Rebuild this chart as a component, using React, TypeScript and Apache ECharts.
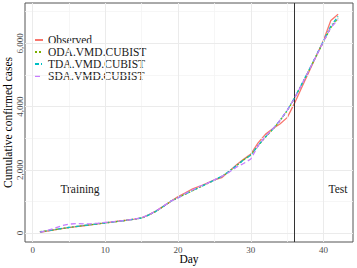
import React, { useEffect, useRef } from 'react';
import * as echarts from 'echarts';

const days = [1, 2, 3, 4, 5, 6, 7, 8, 9, 10, 11, 12, 13, 14, 15, 16, 17, 18, 19, 20, 21, 22, 23, 24, 25, 26, 27, 28, 29, 30, 31, 32, 33, 34, 35, 36, 37, 38, 39, 40, 41, 42];
const observed = [20, 60, 100, 140, 170, 200, 230, 260, 290, 320, 350, 380, 410, 440, 480, 580, 700, 850, 1000, 1150, 1270, 1400, 1480, 1580, 1680, 1750, 1950, 2150, 2330, 2500, 2850, 3120, 3300, 3450, 3650, 4100, 4600, 5100, 5600, 6100, 6720, 6920];
const oda = [40, 70, 105, 140, 175, 205, 235, 260, 290, 320, 345, 375, 405, 435, 475, 570, 690, 840, 1000, 1120, 1230, 1340, 1450, 1560, 1670, 1790, 1940, 2120, 2310, 2470, 2760, 3030, 3270, 3550, 3870, 4260, 4700, 5150, 5600, 6050, 6500, 6800];
const tda = [35, 72, 108, 145, 178, 208, 236, 262, 292, 322, 348, 378, 408, 438, 478, 575, 695, 845, 1005, 1115, 1235, 1345, 1455, 1565, 1675, 1795, 1945, 2125, 2315, 2460, 2770, 3040, 3280, 3560, 3880, 4270, 4710, 5160, 5620, 6080, 6550, 6850];
const sda = [30, 80, 150, 230, 280, 300, 290, 295, 310, 335, 355, 380, 410, 440, 485, 580, 700, 850, 1010, 1110, 1250, 1360, 1480, 1570, 1680, 1790, 1920, 2080, 2200, 2340, 2760, 3050, 3290, 3560, 3880, 4260, 4700, 5150, 5600, 6060, 6500, 6750];

const xMajor = [0, 10, 20, 30, 40];
const xMinor = [5, 15, 25, 35];
const yMajor = [0, 2000, 4000, 6000];
const yMinor = [1000, 3000, 5000, 7000];
const splitDay = 36;
const seriesNames = ['Observed', 'ODA.VMD.CUBIST', 'TDA.VMD.CUBIST', 'SDA.VMD.CUBIST'];

const FONT = '"Liberation Serif", "DejaVu Serif", serif';

export default function App() {
  const ref = useRef<HTMLDivElement>(null);
  useEffect(() => {
    if (!ref.current) return;
    const chart = echarts.init(ref.current, null, { renderer: 'svg' });
    const pair = (arr: number[]) => days.map((d, i) => [d, arr[i]]);
    const colors = ['#F8766D', '#7CAE00', '#00BFC4', '#C77CFF'];
    const dashes: any[] = ['solid', [2, 2], [4, 2, 1, 2], [5, 3]];
    const datasets = [observed, oda, tda, sda];
    const series: any[] = datasets.map((arr, i) => ({
      name: seriesNames[i],
      type: 'line',
      data: pair(arr),
      symbol: 'none',
      showSymbol: false,
      smooth: false,
      z: 3 + i,
      lineStyle: { color: colors[i], width: 1.3, type: dashes[i] },
      itemStyle: { color: colors[i] },
    }));
    series.push({
      name: 'grid',
      type: 'line',
      data: [],
      z: 1,
      silent: true,
      markLine: {
        silent: true,
        symbol: ['none', 'none'],
        label: { show: false },
        animation: false,
        data: [
          ...xMinor.map((v) => ({ xAxis: v, lineStyle: { color: '#f4f4f4', width: 0.8, type: 'solid' } })),
          ...yMinor.map((v) => ({ yAxis: v, lineStyle: { color: '#f4f4f4', width: 0.8, type: 'solid' } })),
          ...xMajor.map((v) => ({ xAxis: v, lineStyle: { color: '#ebebeb', width: 1, type: 'solid' } })),
          ...yMajor.map((v) => ({ yAxis: v, lineStyle: { color: '#ebebeb', width: 1, type: 'solid' } })),
        ],
      },
    });
    series.push({
      name: 'split',
      type: 'line',
      data: [],
      z: 10,
      silent: true,
      markLine: {
        silent: true,
        symbol: ['none', 'none'],
        label: { show: false },
        animation: false,
        data: [{ xAxis: splitDay, lineStyle: { color: '#333333', width: 1, type: 'solid' } }],
      },
    });
    chart.setOption({
      animation: false,
      grid: { left: 25, right: 4, top: 3, bottom: 26, show: true, borderColor: '#555', borderWidth: 1, backgroundColor: 'transparent', outerBoundsMode: 'none', containLabel: false },
      legend: {
        data: seriesNames,
        orient: 'vertical',
        left: 29,
        top: 29,
        itemWidth: 8,
        itemHeight: 6,
        itemGap: 0,
        itemStyle: { opacity: 0, borderWidth: 0 },
        textStyle: { fontFamily: FONT, fontSize: 11.5, color: '#1a1a1a', lineHeight: 9.7 },
      },
      xAxis: {
        type: 'value',
        min: -1.05,
        max: 44.05,
        name: 'Day',
        nameLocation: 'middle',
        nameGap: 10.5,
        nameMoveOverlap: false,
        nameTextStyle: { fontFamily: FONT, fontSize: 11.5, color: '#000' },
        axisLine: { show: false },
        axisTick: { show: true, length: 2.5, lineStyle: { color: '#333' }, customValues: xMajor },
        axisLabel: { customValues: xMajor, fontFamily: FONT, fontSize: 9, color: '#4d4d4d', margin: 3 },
        splitLine: { show: false },
      },
      yAxis: {
        type: 'value',
        min: -284,
        max: 7276,
        name: 'Cumulative confirmed cases',
        nameLocation: 'middle',
        nameGap: 11,
        nameMoveOverlap: false,
        nameTextStyle: { fontFamily: FONT, fontSize: 11.5, color: '#000' },
        axisLine: { show: false },
        axisTick: { show: true, length: 2.5, lineStyle: { color: '#333' }, customValues: yMajor },
        axisLabel: {
          customValues: yMajor,
          rotate: 90,
          fontFamily: FONT,
          fontSize: 9,
          color: '#4d4d4d',
          margin: 1,
          formatter: (v: number) => v.toLocaleString('en-US'),
        },
        splitLine: { show: false },
      },
      graphic: [
        { type: 'text', x: 80, y: 189, style: { text: 'Training', font: `11.5px ${FONT}`, fill: '#1a1a1a', textAlign: 'center', textVerticalAlign: 'middle' } },
        { type: 'text', x: 338, y: 189, style: { text: 'Test', font: `11.5px ${FONT}`, fill: '#1a1a1a', textAlign: 'center', textVerticalAlign: 'middle' } },
      ],
      series,
    });
    return () => chart.dispose();
  }, []);
  return <div ref={ref} style={{ width: 357, height: 268, position: 'absolute', left: 0, top: 0 }} />;
}
